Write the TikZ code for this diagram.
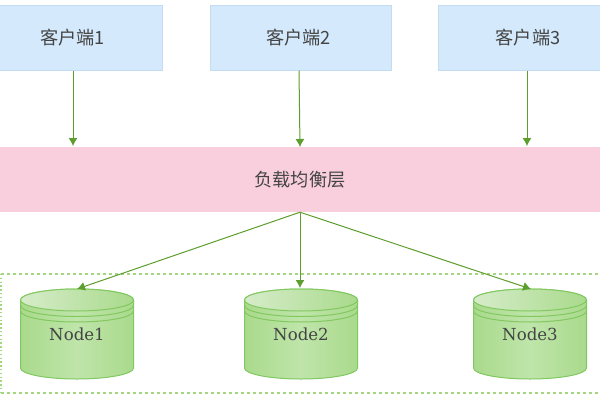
\documentclass[tikz,border=0pt]{standalone}
\usepackage{fontspec}
\setmainfont{DejaVu Serif}
\newfontfamily\cjk{Noto Sans CJK SC}
\usetikzlibrary{arrows.meta}
\definecolor{clientfill}{HTML}{D4E9FC}
\definecolor{clientline}{HTML}{C3DCF2}
\definecolor{lbfill}{HTML}{F9CFDD}
\definecolor{arrowgreen}{HTML}{5E9E2E}
\definecolor{dashgreen}{HTML}{A3D67F}
\definecolor{cylline}{HTML}{82C860}
\definecolor{cyllight}{HTML}{D6ECC9}
\definecolor{cylmid}{HTML}{A9DA8C}
\definecolor{cylbody}{HTML}{BFE5AA}
\definecolor{txt}{HTML}{444444}
\newcommand{\cylshape}[1]{%
  \path[left color=cylmid, right color=cylmid, middle color=cylbody, draw=cylline, line width=1pt]
    (#1-56.5,300) -- (#1-56.5,368) arc[x radius=56.5,y radius=11,start angle=180,end angle=0]
    -- (#1+56.5,300) arc[x radius=56.5,y radius=11,start angle=0,end angle=-180] -- cycle;
  \path[left color=cyllight, right color=cylmid, draw=cylline, line width=1pt]
    (#1,300) ellipse[x radius=56.5,y radius=11];
  \draw[cylline, line width=1pt] (#1-56.5,305.5) arc[x radius=56.5,y radius=11,start angle=180,end angle=0];
  \draw[cylline, line width=1pt] (#1-56.5,311) arc[x radius=56.5,y radius=11,start angle=180,end angle=0];
}
\tikzset{
  clientbox/.style={draw=clientline, fill=clientfill, line width=.8pt, minimum height=65pt, inner sep=0pt},
  lbbox/.style={fill=lbfill, minimum height=65pt, minimum width=602pt, inner sep=0pt, text=txt, font=\fontsize{18.2}{18}\selectfont},
  clienttext/.style={text=txt, inner sep=0pt, font=\fontsize{18.2}{18}\selectfont},
  nodelabel/.style={text=txt, inner sep=0pt, font=\fontsize{16.6}{17}\selectfont},
  flow/.style={draw=arrowgreen, line width=1pt, -{Latex[length=8pt,width=9pt]}},
  groupbox/.style={draw=dashgreen, line width=1.5pt, dash pattern=on 3pt off 3pt},
  groupedge/.style={draw=dashgreen, line width=1.5pt, dash pattern=on 1.4pt off 2.4pt}
}
\begin{document}
\begin{tikzpicture}[x=1pt,y=-1pt]
\useasboundingbox (0,0) rectangle (600,400);
\fill[white] (0,0) rectangle (600,400);
\node[clientbox, minimum width=163pt] (c1) at (80.5,38) {};
\node[clientbox, minimum width=181pt] (c2) at (300.5,38) {};
\node[clientbox, minimum width=164pt] (c3) at (520,38) {};
\node[clienttext] (c1t) at (72.5,37.5) {\cjk 客户端1};
\node[clienttext] (c2t) at (298.5,37.5) {\cjk 客户端2};
\node[clienttext] (c3t) at (528,37.5) {\cjk 客户端3};
\node[lbbox] (lb) at (300,179.5) {\cjk 负载均衡层};
\draw[groupbox] (1,274) -- (604,274);
\draw[groupbox] (1,393) -- (604,393);
\draw[groupedge] (1,274) -- (1,393);
\cylshape{77}
\cylshape{301}
\cylshape{530}
\node[nodelabel] (n1) at (77,334) {Node1};
\node[nodelabel] (n2) at (301,334) {Node2};
\node[nodelabel] (n3) at (530,334) {Node3};
\coordinate (c1o) at (73,70.5);
\coordinate (c2o) at (299,70.5);
\coordinate (c3o) at (527,70.5);
\coordinate (l1) at (73,146);
\coordinate (l2) at (300,147);
\coordinate (l3) at (527,146);
\coordinate (t1) at (77,289);
\coordinate (t2) at (300,288);
\coordinate (t3) at (531,289);
\draw[flow] (c1o) -- (l1);
\draw[flow] (c2o) -- (l2);
\draw[flow] (c3o) -- (l3);
\draw[flow] (lb.south) -- (t1);
\draw[flow] (lb.south) -- (t2);
\draw[flow] (lb.south) -- (t3);
\end{tikzpicture}
\end{document}
